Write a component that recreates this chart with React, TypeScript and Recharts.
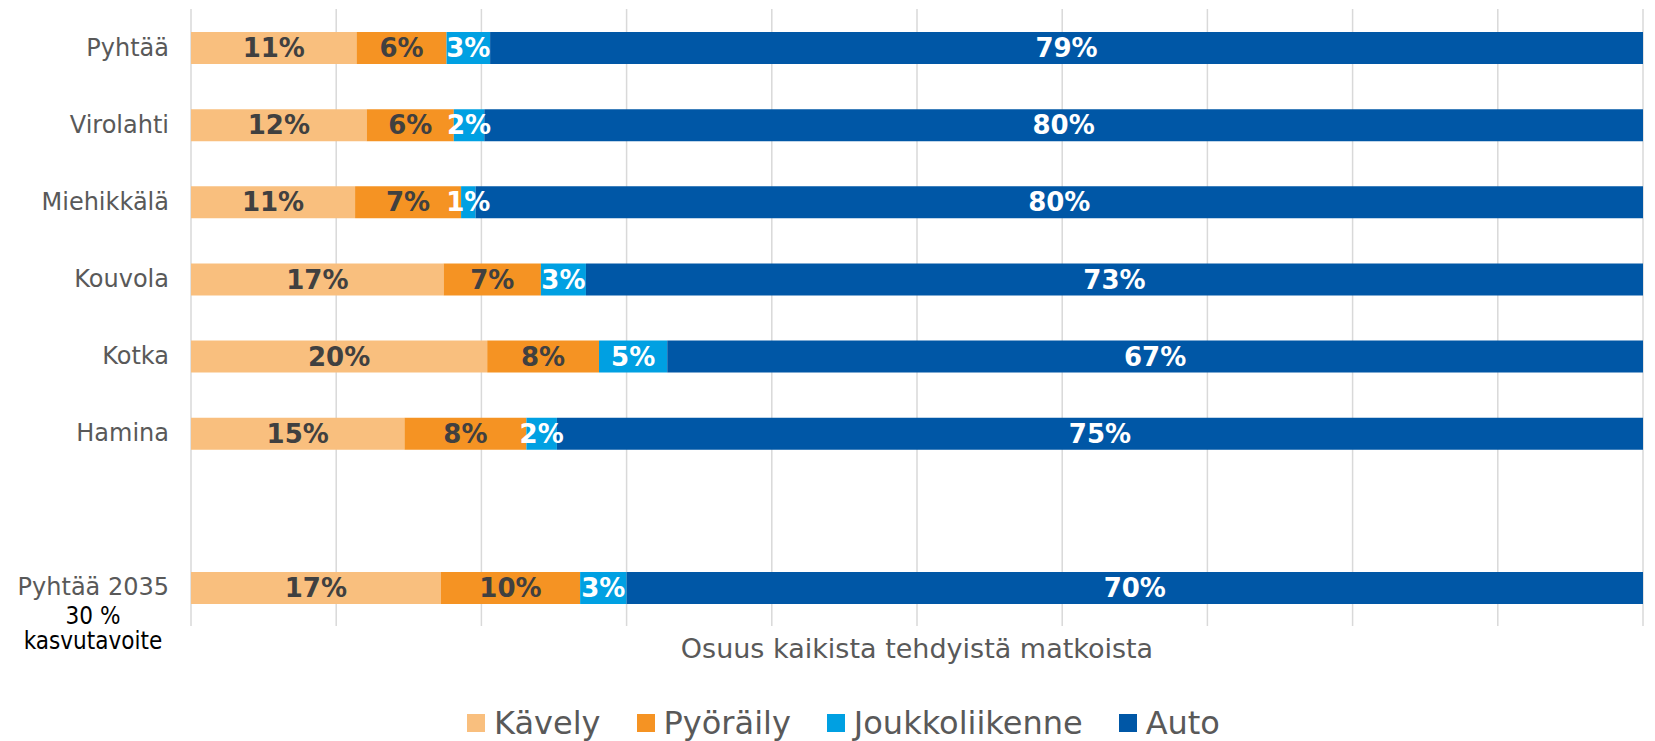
import { BarChart, Bar, XAxis, YAxis, CartesianGrid, LabelList, Legend } from 'recharts';

// Modal split per municipality (% of all trips)
const categories = ['Pyhtää', 'Virolahti', 'Miehikkälä', 'Kouvola', 'Kotka', 'Hamina', '', 'Pyhtää 2035'];
const kavely = [11.4, 12.1, 11.3, 17.4, 20.4, 14.7, null, 17.2];
const pyoraily = [6.2, 6.0, 7.3, 6.7, 7.7, 8.4, null, 9.6];
const joukkoliikenne = [3.0, 2.1, 1.0, 3.1, 4.7, 2.1, null, 3.2];
const auto = [79.4, 79.8, 80.4, 72.8, 67.2, 74.8, null, 70.0];

const xTicks = [0, 10, 20, 30, 40, 50, 60, 70, 80, 90, 100];
const targetNote = ['30 %', 'kasvutavoite'];
const axisTitle = 'Osuus kaikista tehdyistä matkoista';

const series = [
  { key: 'kavely', name: 'Kävely', color: '#F9BF7E', label: '#404040' },
  { key: 'pyoraily', name: 'Pyöräily', color: '#F59323', label: '#404040' },
  { key: 'joukkoliikenne', name: 'Joukkoliikenne', color: '#00A0E2', label: '#ffffff' },
  { key: 'auto', name: 'Auto', color: '#0057A6', label: '#ffffff' },
];

const data = categories.map((name, i) => ({
  name,
  kavely: kavely[i],
  pyoraily: pyoraily[i],
  joukkoliikenne: joukkoliikenne[i],
  auto: auto[i],
}));

const FONT = "'DejaVu Sans', Verdana, sans-serif";
const fmt = (v: unknown) => (v == null ? '' : `${Math.round(v as number)}%`);

function CategoryTick({ x, y, payload }: any) {
  return (
    <g>
      <text x={x} y={y} textAnchor="end" dominantBaseline="central" fontSize={24} fill="#595959" fontFamily={FONT}>
        {payload.value}
      </text>
      {payload.value === 'Pyhtää 2035' &&
        targetNote.map((line, i) => (
          <text
            key={line}
            x={x - 76}
            y={y + 29 + i * 25}
            textAnchor="middle"
            dominantBaseline="central"
            fontSize={24}
            fill="#000"
            fontFamily="'DejaVu Sans Condensed', 'DejaVu Sans', sans-serif"
          >
            {line}
          </text>
        ))}
    </g>
  );
}

function LegendRow() {
  return (
    <div style={{ display: 'flex', justifyContent: 'center', alignItems: 'center', paddingLeft: 44, height: 40, marginTop: 2 }}>
      {series.map((s) => (
        <div key={s.key} style={{ display: 'flex', alignItems: 'center', margin: '0 18px' }}>
          <span style={{ width: 18, height: 18, background: s.color, marginRight: 9 }} />
          <span style={{ fontSize: 32, color: '#595959', fontFamily: FONT, lineHeight: '40px' }}>{s.name}</span>
        </div>
      ))}
    </div>
  );
}

export default function App() {
  return (
    <div style={{ position: 'absolute', left: 0, top: 0, background: '#fff' }}>
      <BarChart
        width={1655}
        height={741}
        data={data}
        layout="vertical"
        margin={{ top: 9, right: 12, bottom: 0, left: 0 }}
        barSize={32}
      >
        <CartesianGrid horizontal={false} stroke="#d9d9d9" strokeWidth={1.5} />
        <XAxis
          type="number"
          domain={[0, 100]}
          ticks={xTicks}
          tick={() => <g />}
          axisLine={false}
          tickLine={false}
          height={75}
          label={{
            value: axisTitle,
            position: 'insideTop',
            offset: 13,
            fontSize: 27,
            fill: '#595959',
            fontFamily: FONT,
          }}
        />
        <YAxis
          type="category"
          dataKey="name"
          width={191}
          axisLine={false}
          tickLine={false}
          tickSize={0}
          tickMargin={22}
          interval={0}
          tick={<CategoryTick />}
        />
        <Legend height={40} verticalAlign="bottom" content={<LegendRow />} />
        {series.map((s) => (
          <Bar key={s.key} dataKey={s.key} name={s.name} stackId="a" fill={s.color} isAnimationActive={false}>
            <LabelList
              dataKey={s.key}
              position="center"
              formatter={fmt}
              fill={s.label}
              fontSize={26}
              fontWeight="bold"
              fontFamily={FONT}
            />
          </Bar>
        ))}
      </BarChart>
    </div>
  );
}
